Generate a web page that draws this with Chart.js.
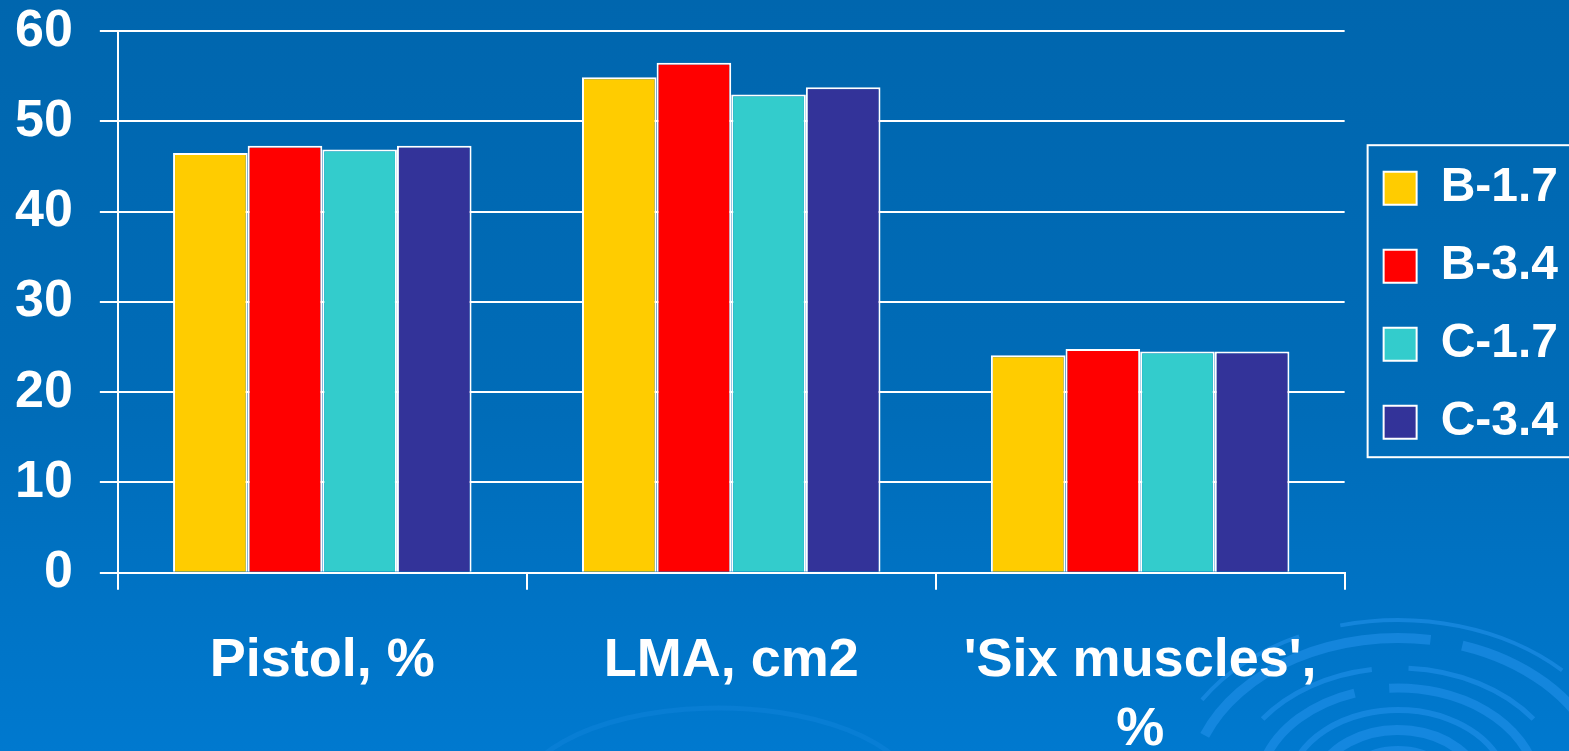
<!DOCTYPE html>
<html>
<head>
<meta charset="utf-8">
<script src="https://cdn.jsdelivr.net/npm/chart.js@4.4.0/dist/chart.umd.min.js"></script>
<style>
  html, body { margin: 0; padding: 0; overflow: hidden; width: 1569px; height: 751px; background: #006bb5; }
  canvas { display: block; margin-left: -12px; margin-top: -27px; }
</style>
</head>
<body>
<canvas id="chart" width="1640" height="829"></canvas>
<script>
const categories = ["Pistol, %", "LMA, cm2", ["'Six muscles',", "%"]];
const seriesNames = ["B-1.7", "B-3.4", "C-1.7", "C-3.4"];
const b17 = [46.5, 54.9, 24.1];
const b34 = [47.3, 56.5, 24.8];
const c17 = [46.9, 53.0, 24.5];
const c34 = [47.3, 53.8, 24.5];
const seriesColors = ["#ffcc00", "#ff0000", "#33cccc", "#333399"];

const FONT = "'Liberation Sans', Arial, sans-serif";

// Blue slide background with the swirl in the corner
const backdrop = {
  id: "backdrop",
  beforeDraw(chart) {
    const ctx = chart.ctx;
    const g = ctx.createLinearGradient(0, 27, 0, 778);
    g.addColorStop(0, "#0066ae");
    g.addColorStop(0.55, "#006cb8");
    g.addColorStop(1, "#0079cf");
    ctx.save();
    ctx.fillStyle = g;
    ctx.fillRect(0, 0, chart.width, chart.height);
    ctx.strokeStyle = "rgba(40, 150, 240, 0.5)";
    // radius, width, start, end (fractions of a half turn)
    const rings = [
      [172, 4, 0.18, 0.36], [172, 4, 0.42, 0.75],
      [154, 10, 0.12, 0.55], [154, 10, 0.6, 0.9],
      [124, 5, 0.2, 0.45], [124, 5, 0.52, 0.8],
      [104, 9, 0.1, 0.4], [104, 9, 0.48, 0.95],
      [82, 6, 0.15, 0.85],
      [62, 10, 0.05, 0.95],
      [42, 8, 0.0, 1.0]
    ];
    rings.forEach(r => {
      ctx.lineWidth = r[1];
      ctx.beginPath();
      ctx.ellipse(1410, 819, r[0] * 1.35, r[0], 0, Math.PI * (1 + r[2]), Math.PI * (1 + r[3]));
      ctx.stroke();
    });
    ctx.strokeStyle = "rgba(40, 150, 240, 0.2)";
    ctx.lineWidth = 5;
    ctx.beginPath();
    ctx.ellipse(730, 827, 200, 92, 0, Math.PI * 1.1, Math.PI * 1.85);
    ctx.stroke();
    ctx.restore();
  }
};

// Move the legend up beside the plot and frame it
const legendPlace = {
  id: "legendPlace",
  afterLayout(chart) {
    const lg = chart.legend;
    const w = lg.width;
    lg.left = chart.chartArea.right + 9;
    lg.right = lg.left + w;
    lg.top = chart.chartArea.top + 103;
  },
  afterDraw(chart) {
    const lg = chart.legend;
    const ctx = chart.ctx;
    ctx.save();
    ctx.strokeStyle = "#ffffff";
    ctx.lineWidth = 2;
    ctx.strokeRect(lg.left + 14, lg.top + 11, 400, 312);
    ctx.restore();
  }
};

const datasets = [b17, b34, c17, c34].map((values, i) => ({
  label: seriesNames[i],
  data: values,
  backgroundColor: seriesColors[i],
  borderColor: "#ffffff",
  borderWidth: 2,
  categoryPercentage: 0.73,
  barPercentage: 1
}));

new Chart(document.getElementById("chart"), {
  type: "bar",
  data: { labels: categories, datasets: datasets },
  plugins: [backdrop, legendPlace],
  options: {
    responsive: false,
    animation: false,
    devicePixelRatio: 1,
    layout: { padding: { left: 0, top: 4, right: 69, bottom: 0 } },
    plugins: {
      tooltip: { enabled: false },
      legend: {
        position: "right",
        align: "start",
        labels: {
          color: "#ffffff",
          font: { family: FONT, size: 48, weight: "bold" },
          boxWidth: 33,
          boxHeight: 33,
          padding: 30
        }
      }
    },
    scales: {
      x: {
        grid: {
          color: c => (c.index === 0 || c.index === 3) ? "#ffffff" : "rgba(0,0,0,0)",
          tickColor: "#ffffff",
          lineWidth: 2,
          tickLength: 17,
          offset: true
        },
        border: { color: "#ffffff", width: 2 },
        ticks: {
          color: "#ffffff",
          font: { family: FONT, size: 54, weight: "bold", lineHeight: 1.28 },
          padding: 37,
          maxRotation: 0,
          autoSkip: false
        }
      },
      y: {
        min: 0,
        max: 60,
        ticks: {
          stepSize: 10,
          color: "#ffffff",
          font: { family: FONT, size: 52, weight: "bold" },
          padding: 27
        },
        grid: { color: "#ffffff", lineWidth: 2, tickLength: 18 },
        border: { color: "#ffffff", width: 2 }
      }
    }
  }
});
</script>
</body>
</html>
